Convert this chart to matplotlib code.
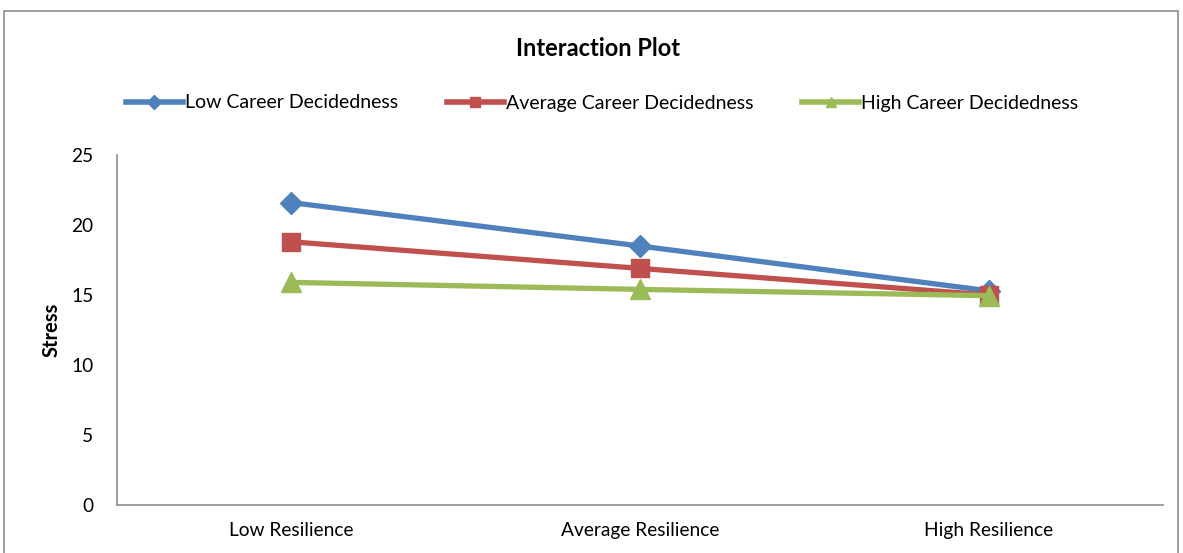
import matplotlib.pyplot as plt
from matplotlib.patches import Rectangle
from matplotlib.lines import Line2D

plt.rcParams['font.family'] = ['Lato', 'DejaVu Sans']

categories = ['Low Resilience', 'Average Resilience', 'High Resilience']
low_decided = [21.6, 18.5, 15.3]
avg_decided = [18.8, 16.9, 15.0]
high_decided = [15.9, 15.4, 14.95]
series_names = ['Low Career Decidedness', 'Average Career Decidedness', 'High Career Decidedness']

fig = plt.figure(figsize=(11.83, 5.53), dpi=100)
W, H = 1183, 553
# axes box in pixels: left 117, right 1163, top 155 (y=25), bottom 505 (y=0)
ax = fig.add_axes([117 / W, 1 - 505 / H, (1163 - 117) / W, (505 - 155) / H])

# outer chart frame
fig.patches.append(Rectangle((4 / W, -0.1), (1178 - 4) / W, 1.1 - 11 / H,
                             transform=fig.transFigure, fill=False,
                             edgecolor='#8c8c8c', linewidth=1.2))

x = range(len(categories))
styles = [
    (low_decided, '#4f81bd', 'D', 11),
    (avg_decided, '#c0504d', 's', 13),
    (high_decided, '#9bbb59', '^', 14),
]
for (vals, col, mk, ms), name in zip(styles, series_names):
    ax.plot(x, vals, color=col, marker=mk, markersize=ms, linewidth=3.8,
            label=name, solid_capstyle='round')

ax.set_xlim(-0.5, 2.5)
ax.set_ylim(0, 25)
ax.set_yticks([0, 5, 10, 15, 20, 25])
ax.set_xticks(list(x))
ax.set_xticklabels(categories)
ax.tick_params(axis='both', length=0, labelsize=13.8, colors='black')
ax.tick_params(axis='y', pad=17)
ax.tick_params(axis='x', pad=12)
for s in ['top', 'right']:
    ax.spines[s].set_visible(False)
for s in ['left', 'bottom']:
    ax.spines[s].set_color('#8c8c8c')
    ax.spines[s].set_linewidth(1.2)

ax.set_ylabel('Stress', fontsize=14.5, fontweight='bold')
ax.yaxis.set_label_coords(-0.053, 0.5)

fig.text(598 / W, 1 - 48 / H, 'Interaction Plot', ha='center', va='center',
         fontsize=17, fontweight='bold')

# legend with small markers on thick lines
handles = [Line2D([], [], color=c, marker=m, markersize=7, linewidth=4)
           for (_, c, m, _) in styles]
fig.legend(handles, series_names, loc='center', bbox_to_anchor=(602 / W, 1 - 103 / H),
           ncol=3, frameon=False, fontsize=14, handlelength=2.95,
           handletextpad=0.1, columnspacing=2.5)

fig.savefig('out.png', dpi=100)
